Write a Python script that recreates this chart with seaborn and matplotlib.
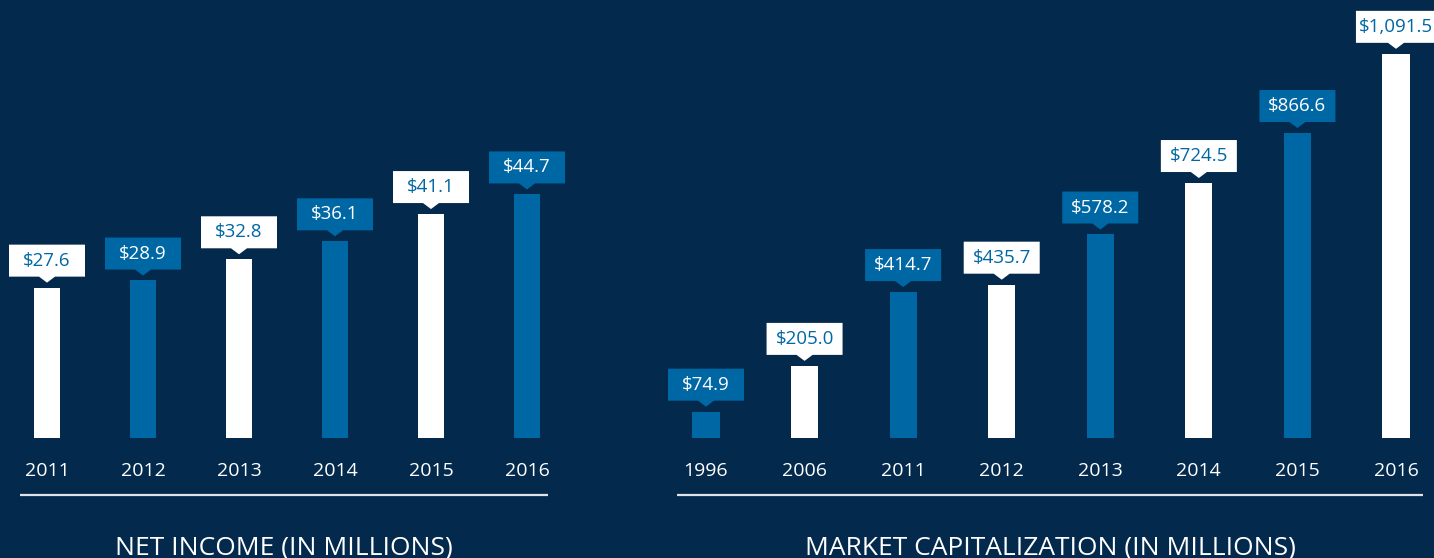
import matplotlib
matplotlib.use("Agg")
import matplotlib.pyplot as plt
from matplotlib.path import Path
import seaborn as sns
import pandas as pd

NAVY = "#03294d"
BLUE = "#0067a5"
WHITE = "#ffffff"
LINE = "#dfe3e8"

income_years = ["2011", "2012", "2013", "2014", "2015", "2016"]
income_values = [27.6, 28.9, 32.8, 36.1, 41.1, 44.7]
income_colors = [WHITE, BLUE, WHITE, BLUE, WHITE, BLUE]

cap_years = ["1996", "2006", "2011", "2012", "2013", "2014", "2015", "2016"]
cap_values = [74.9, 205.0, 414.7, 435.7, 578.2, 724.5, 866.6, 1091.5]
cap_colors = [BLUE, WHITE, BLUE, WHITE, BLUE, WHITE, BLUE, WHITE]

sns.set_theme(style="white")
plt.rcParams['font.family'] = ['Open Sans', 'DejaVu Sans']

W, H = 1434, 558
fig = plt.figure(figsize=(W / 100, H / 100), dpi=100, facecolor=NAVY)

# bar baseline sits at y=438 px from the top
base = 438


def callout(x0, y0, width, height, mutation_size):
    # label box with a little pointer under it (pixel units)
    cx = x0 + width / 2
    cy = y0 + height / 2
    hw = max(38, width / 2 + 3)
    hh = 16
    tw, th = 8, 6
    b, t = cy - hh, cy + hh
    verts = [(cx - hw, b), (cx - tw, b), (cx, b - th), (cx + tw, b),
             (cx + hw, b), (cx + hw, t), (cx - hw, t), (cx - hw, b)]
    codes = [Path.MOVETO] + [Path.LINETO] * 6 + [Path.CLOSEPOLY]
    return Path(verts, codes)


def make_ax(x0, x1):
    ax = fig.add_axes([x0 / W, (H - base) / H, (x1 - x0) / W, base / H])
    ax.set_facecolor(NAVY)
    return ax


def draw_panel(ax, years, values, colors, ymax, xlim, title):
    df = pd.DataFrame({"year": years, "value": values})
    sns.barplot(data=df, x="year", y="value", hue="year", palette=colors,
                legend=False, width=0.275, saturation=1, linewidth=0,
                ax=ax)
    ax.set_xlim(*xlim)
    ax.set_ylim(0, ymax)
    sns.despine(ax=ax, left=True, bottom=True)
    ax.set_yticks([])
    ax.set_xlabel("")
    ax.set_ylabel("")
    ax.tick_params(axis="x", length=0, pad=17, labelsize=14, labelcolor=WHITE)

    for i, (v, c) in enumerate(zip(values, colors)):
        txt_col = BLUE if c == WHITE else WHITE
        ax.annotate(f"${v:,.1f}", xy=(i, v), xytext=(0, 19.4),
                    textcoords="offset points", ha="center", va="center",
                    fontsize=13.5, color=txt_col,
                    bbox=dict(boxstyle=callout, fc=c, ec="none"))

    ax.plot([0, 1], [-57 / base] * 2, transform=ax.transAxes, color=LINE,
            lw=1.6, clip_on=False, solid_capstyle="butt")
    ax.text(0.5, -110 / base, title, transform=ax.transAxes, ha="center",
            va="center", fontsize=19, color=WHITE)


ax1 = make_ax(20, 548)
draw_panel(ax1, income_years, income_values, income_colors,
           base / 5.45, (-27 / 96, 5 + 21 / 96), "NET INCOME (IN MILLIONS)")

ax2 = make_ax(677, 1423)
draw_panel(ax2, cap_years, cap_values, cap_colors,
           base / 0.352, (-29 / 98.6, 7 + 27 / 98.6),
           "MARKET CAPITALIZATION (IN MILLIONS)")

fig.savefig("out.png", dpi=100, facecolor=NAVY)
